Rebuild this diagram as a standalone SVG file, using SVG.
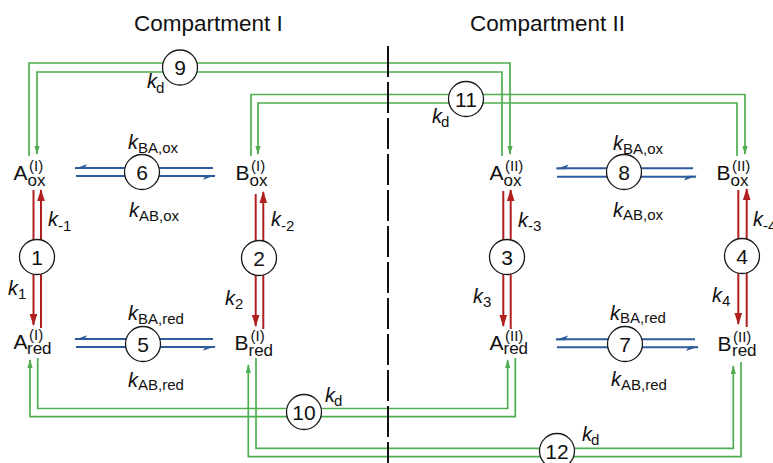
<svg xmlns="http://www.w3.org/2000/svg" width="773" height="463" viewBox="0 0 773 463">
<style>
text{font-family:"Liberation Sans",Arial,Helvetica,sans-serif;fill:#111}
.title{font-size:22.5px}
.m{font-size:21px}
.sb{font-size:17px}
.sp{font-size:15px}
.k{font-size:20px;font-style:italic}
.ks{font-size:15px}
.num{font-size:21px;text-anchor:middle}
.red{stroke:#b01e1e;stroke-width:2;fill:none}
.blue{stroke:#2d5b9c;stroke-width:2;fill:none}
.green{stroke:#4fae4f;stroke-width:1.7;fill:none}
.circ{fill:#fff;stroke:#1a1a1a;stroke-width:1.3}
</style>
<defs>
<marker id="ar" markerUnits="userSpaceOnUse" viewBox="-12 -5 13 10" refX="0" refY="0" markerWidth="13" markerHeight="10" orient="auto" overflow="visible">
<polygon points="1,0 -11,-3.8 -11,3.8" fill="#b01e1e"/>
</marker>
<marker id="ag" markerUnits="userSpaceOnUse" viewBox="-9 -4 10 8" refX="0" refY="0" markerWidth="10" markerHeight="8" orient="auto" overflow="visible">
<polygon points="1,0 -8,-2.6 -8,2.6" fill="#4fae4f"/>
</marker>
<marker id="ab" markerUnits="userSpaceOnUse" viewBox="-13 -5 14 10" refX="0" refY="0" markerWidth="14" markerHeight="10" orient="auto" overflow="visible">
<polygon points="1,-0.9 -12,3.8 -9,-0.9" fill="#2d5b9c"/>
</marker>
</defs>
<rect width="773" height="463" fill="#fff"/>
<g id="titles">
<text class="title" x="134" y="31">Compartment I</text>
<text class="title" x="470" y="31">Compartment II</text>
</g>
<g id="connectors">
<path class="green" d="M29 156 V63 H510 V154" marker-end="url(#ag)"/>
<path class="green" d="M502 156 V72 H37 V154" marker-end="url(#ag)"/>
<path class="green" d="M251 156 V94.5 H745 V154" marker-end="url(#ag)"/>
<path class="green" d="M737 156 V103 H258 V154" marker-end="url(#ag)"/>
<path class="green" d="M37.7 358 V408.5 H507.7 V360" marker-end="url(#ag)"/>
<path class="green" d="M515.3 358 V416.7 H30 V360" marker-end="url(#ag)"/>
<path class="green" d="M256 358 V448.3 H733.3 V366" marker-end="url(#ag)"/>
<path class="green" d="M741 362 V456.7 H248.3 V365" marker-end="url(#ag)"/>
<path class="red" d="M33.5 190 V325" marker-end="url(#ar)"/>
<path class="red" d="M41 328 V190" marker-end="url(#ar)"/>
<path class="red" d="M255.7 194 V326" marker-end="url(#ar)"/>
<path class="red" d="M263.3 329 V192" marker-end="url(#ar)"/>
<path class="red" d="M503.3 191 V326" marker-end="url(#ar)"/>
<path class="red" d="M510.7 329 V190" marker-end="url(#ar)"/>
<path class="red" d="M738.3 190 V324" marker-end="url(#ar)"/>
<path class="red" d="M746.7 327 V189" marker-end="url(#ar)"/>
<path class="blue" d="M213 168 H75" marker-end="url(#ab)"/>
<path class="blue" d="M76 176 H215" marker-end="url(#ab)"/>
<path class="blue" d="M693 168.3 H556.5" marker-end="url(#ab)"/>
<path class="blue" d="M557 176.7 H696" marker-end="url(#ab)"/>
<path class="blue" d="M213 339 H75" marker-end="url(#ab)"/>
<path class="blue" d="M76 347 H215" marker-end="url(#ab)"/>
<path class="blue" d="M695 339.3 H556" marker-end="url(#ab)"/>
<path class="blue" d="M557 347.3 H698" marker-end="url(#ab)"/>
</g>
<g id="divider">
<line x1="388" y1="46" x2="388" y2="463" stroke="#111" stroke-width="2" stroke-dasharray="31 5"/>
</g>
<g id="rate-labels">
<text class="k" x="48" y="226">k<tspan class="ks" font-style="normal" x="58" y="231">-1</tspan></text>
<text class="k" x="8" y="295">k<tspan class="ks" font-style="normal" x="18" y="299">1</tspan></text>
<text class="k" x="271" y="226">k<tspan class="ks" font-style="normal" x="281" y="231">-2</tspan></text>
<text class="k" x="225" y="305">k<tspan class="ks" font-style="normal" x="235" y="309">2</tspan></text>
<text class="k" x="518" y="226.5">k<tspan class="ks" font-style="normal" x="528" y="231">-3</tspan></text>
<text class="k" x="473" y="303">k<tspan class="ks" font-style="normal" x="483" y="307">3</tspan></text>
<text class="k" x="753" y="226">k<tspan class="ks" font-style="normal" x="763" y="231">-4</tspan></text>
<text class="k" x="712" y="302">k<tspan class="ks" font-style="normal" x="722" y="306">4</tspan></text>
<text class="k" x="128" y="148.5">k<tspan class="ks" font-style="normal" x="138" y="152.5">BA,ox</tspan></text>
<text class="k" x="129" y="216.5">k<tspan class="ks" font-style="normal" x="139" y="220.5">AB,ox</tspan></text>
<text class="k" x="613" y="150">k<tspan class="ks" font-style="normal" x="623" y="153.5">BA,ox</tspan></text>
<text class="k" x="613" y="216.5">k<tspan class="ks" font-style="normal" x="623" y="220">AB,ox</tspan></text>
<text class="k" x="128" y="320">k<tspan class="ks" font-style="normal" x="138" y="323.5">BA,red</tspan></text>
<text class="k" x="128" y="386.5">k<tspan class="ks" font-style="normal" x="138" y="390">AB,red</tspan></text>
<text class="k" x="610" y="320">k<tspan class="ks" font-style="normal" x="620" y="323">BA,red</tspan></text>
<text class="k" x="611" y="385.5">k<tspan class="ks" font-style="normal" x="621" y="389.5">AB,red</tspan></text>
<text class="k" x="147" y="88">k<tspan class="ks" font-style="normal" x="156" y="93">d</tspan></text>
<text class="k" x="432" y="123">k<tspan class="ks" font-style="normal" x="441" y="127">d</tspan></text>
<text class="k" x="325" y="401.5">k<tspan class="ks" font-style="normal" x="334" y="405.5">d</tspan></text>
<text class="k" x="582" y="441">k<tspan class="ks" font-style="normal" x="591" y="444.5">d</tspan></text>
</g>
<g id="A_ox_I"><text class="m" x="13.5" y="180">A</text><text class="sb" x="27.5" y="185.5">ox</text><text class="sp" x="29" y="170.5">(I)</text></g>
<g id="B_ox_I"><text class="m" x="235.5" y="180">B</text><text class="sb" x="249.5" y="185.5">ox</text><text class="sp" x="251" y="170.5">(I)</text></g>
<g id="A_ox_II"><text class="m" x="489.5" y="180">A</text><text class="sb" x="503.5" y="185.5">ox</text><text class="sp" x="505" y="170.5">(II)</text></g>
<g id="B_ox_II"><text class="m" x="716.5" y="180">B</text><text class="sb" x="730.5" y="185.5">ox</text><text class="sp" x="732" y="170.5">(II)</text></g>
<g id="A_red_I"><text class="m" x="13.5" y="349">A</text><text class="sb" x="27" y="354">red</text><text class="sp" x="29" y="340">(I)</text></g>
<g id="B_red_I"><text class="m" x="234.5" y="350">B</text><text class="sb" x="248.5" y="355.5">red</text><text class="sp" x="250.5" y="341">(I)</text></g>
<g id="A_red_II"><text class="m" x="489.5" y="350">A</text><text class="sb" x="503.5" y="354">red</text><text class="sp" x="505" y="340.5">(II)</text></g>
<g id="B_red_II"><text class="m" x="717.5" y="351">B</text><text class="sb" x="732" y="355.5">red</text><text class="sp" x="733" y="342">(II)</text></g>
<g id="r1"><circle class="circ" cx="37" cy="257" r="17.5"/><text class="num" x="37" y="264.5">1</text></g>
<g id="r2"><circle class="circ" cx="259" cy="258" r="17.5"/><text class="num" x="259" y="265.5">2</text></g>
<g id="r3"><circle class="circ" cx="507" cy="257" r="17.5"/><text class="num" x="507" y="264.5">3</text></g>
<g id="r4"><circle class="circ" cx="742" cy="256" r="17.5"/><text class="num" x="742" y="263.5">4</text></g>
<g id="r5"><circle class="circ" cx="143" cy="344" r="17.5"/><text class="num" x="143" y="351.5">5</text></g>
<g id="r6"><circle class="circ" cx="142" cy="172" r="17.5"/><text class="num" x="142" y="179.5">6</text></g>
<g id="r7"><circle class="circ" cx="625" cy="344" r="17.5"/><text class="num" x="625" y="351.5">7</text></g>
<g id="r8"><circle class="circ" cx="624" cy="172" r="17.5"/><text class="num" x="624" y="179.5">8</text></g>
<g id="r9"><circle class="circ" cx="180" cy="67.5" r="17.5"/><text class="num" x="180" y="75">9</text></g>
<g id="r10"><circle class="circ" cx="304" cy="412" r="17.5"/><text class="num" x="304" y="419.5">10</text></g>
<g id="r11"><circle class="circ" cx="466" cy="99" r="17.5"/><text class="num" x="466" y="106.5">11</text></g>
<g id="r12"><circle class="circ" cx="557" cy="451" r="17.5"/><text class="num" x="557" y="458.5">12</text></g>
</svg>
